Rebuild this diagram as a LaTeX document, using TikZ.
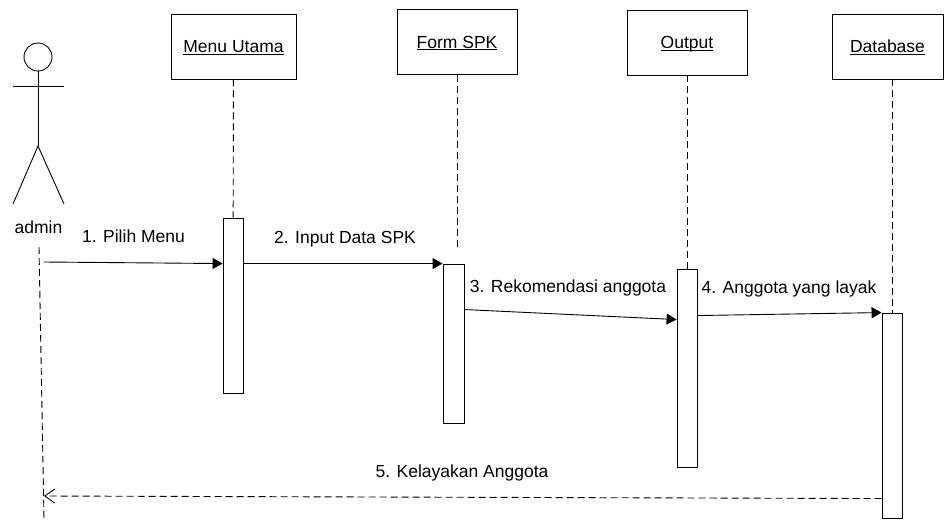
\documentclass[tikz,border=0pt]{standalone}
\usepackage{fontspec}
\setmainfont{Liberation Sans}
\usetikzlibrary{arrows.meta}

\begin{document}
\begin{tikzpicture}[x=1pt, y=-1pt, line width=0.9pt,
    font=\fontsize{17.5}{21}\selectfont,
    obj/.style={shape=rectangle, draw, minimum width=120pt, minimum height=65pt, inner sep=0pt,
      text height=14.5pt, text depth=2pt},
    bar/.style={shape=rectangle, draw, fill=white, minimum width=20pt, inner sep=0pt},
    life/.style={dash pattern=on 7pt off 4pt},
    msg/.style={-{Triangle[length=10pt,width=11pt]}},
    reply/.style={dash pattern=on 7pt off 4pt, -{Straight Barb[length=10pt,width=14pt]}}]
      \useasboundingbox (0,0) rectangle (944,519);

      % actor
      \draw (38,57) circle (14pt);
      \draw (13,86) -- (64,86);
      \draw (38,71) -- (38,146);
      \draw (13,204) -- (38,146) -- (64,204);
      \node[anchor=base] (admin) at (38.5,233) {admin};

      \node[obj, minimum width=125pt] (MU) at (233.5,46.5) {\underline{\smash{Menu Utama}}};
      \node[obj] (FS) at (457,42) {\underline{\smash{Form SPK}}};
      \node[obj] (OU) at (687,42.5) {\underline{\smash{Output}}};
      \node[obj, minimum width=111pt] (DB) at (887.5,46.5) {\underline{\smash{Database}}};

      \node[bar, minimum height=175pt] (MUact) at (233,305.5) {};
      \node[bar, minimum height=159pt, minimum width=21pt] (FSact) at (453.5,343.5) {};
      \node[bar, minimum height=198pt] (OUact) at (687,368) {};
      \node[bar, minimum height=205pt] (DBact) at (892,415.5) {};

      \coordinate (adminTop) at (39,247);
      \coordinate (adminEnd) at (44,519);
      \coordinate (m1) at (44,262);
      \coordinate (m5) at (44,496);
      \coordinate (FSend) at (457,247);

      \path [life] (adminTop) edge (adminEnd);
      \path [life] (MU) edge (MUact);
      \path [life] (FS.south) edge (FSend);
      \path [life] (OU) edge (OUact);
      \path [life] (DB.south -| DBact.north) edge (DBact);

      \path [msg] (m1) edge (MUact.west |- FSact.north);
      \path [msg] (MUact.east |- FSact.north) edge (FSact.north west);
      \path [msg] ([yshift=-46pt]FSact.north east) edge ([yshift=-51pt]OUact.north west);
      \path [msg] ([yshift=-47pt]OUact.north east) edge (DBact.north west);
      \path [reply] ([yshift=-186pt]DBact.north west) edge (m5);

      \node[anchor=base] (l1) at (133.5,242) {1. Pilih Menu};
      \node[anchor=base] (l2) at (345,243) {2. Input Data SPK};
      \node[anchor=base] (l3) at (568,292) {3. Rekomendasi anggota};
      \node[anchor=base] (l4) at (789,293) {4. Anggota yang layak};
      \node[anchor=base] (l5) at (462,477) {5. Kelayakan Anggota};
\end{tikzpicture}
\end{document}
